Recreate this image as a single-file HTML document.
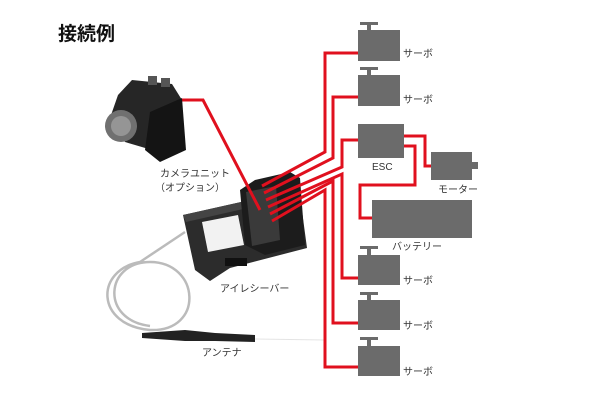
<!DOCTYPE html>
<html><head><meta charset="utf-8"><style>
body{margin:0;background:#fff;}
svg{display:block}
text{font-family:"Liberation Sans","Noto Sans CJK JP",sans-serif;fill:#333;font-size:10px}
</style></head><body>
<svg width="600" height="400" viewBox="0 0 600 400" xmlns="http://www.w3.org/2000/svg">
<rect width="600" height="400" fill="#fff"/>
<text x="58" y="40" style="font-size:19px;font-weight:bold;fill:#111">接続例</text>

<!-- servos -->
<g fill="#6b6b6b">
 <rect x="360" y="22" width="18" height="3"/><rect x="367" y="24" width="4" height="6"/><rect x="358" y="30" width="42" height="31"/>
 <rect x="360" y="67" width="18" height="3"/><rect x="367" y="69" width="4" height="6"/><rect x="358" y="75" width="42" height="31"/>
 <rect x="358" y="124" width="46" height="34"/>
 <rect x="431" y="152" width="41" height="28"/><rect x="472" y="162" width="6" height="7"/>
 <rect x="372" y="200" width="100" height="38"/>
 <rect x="360" y="246" width="18" height="3"/><rect x="367" y="248" width="4" height="7"/><rect x="358" y="255" width="42" height="30"/>
 <rect x="360" y="292" width="18" height="3"/><rect x="367" y="294" width="4" height="7"/><rect x="358" y="300" width="42" height="30"/>
 <rect x="360" y="337" width="18" height="3"/><rect x="367" y="339" width="4" height="7"/><rect x="358" y="346" width="42" height="30"/>
</g>
<text x="403" y="57">サーボ</text>
<text x="403" y="103">サーボ</text>
<text x="372" y="170">ESC</text>
<text x="438" y="193">モーター</text>
<text x="392" y="250">バッテリー</text>
<text x="403" y="284">サーボ</text>
<text x="403" y="329">サーボ</text>
<text x="403" y="375">サーボ</text>

<!-- antenna -->
<path d="M185,232 L140,262 C95,270 95,325 150,330 C205,332 200,262 150,262 C105,262 100,320 150,326" fill="none" stroke="#bbb" stroke-width="2.5"/>
<path d="M142,333 L185,330 L215,333 L255,335 L255,342 L215,341 L185,341 L142,338 Z" fill="#222"/>
<line x1="255" y1="339" x2="325" y2="340" stroke="#e4e4e4" stroke-width="1"/>

<!-- receiver -->
<polygon points="183,215 250,200 300,196 307,248 230,268 210,281 195,270" fill="#2c2c2c"/>
<polygon points="183,215 250,200 252,207 186,222" fill="#444"/>
<polygon points="255,180 290,172 300,178 305,245 265,255 245,245 240,190" fill="#1c1c1c"/>
<polygon points="246,192 276,186 280,240 252,246" fill="#3a3a3a"/>
<polygon points="202,222 238,215 244,245 208,252" fill="#f2f2f2"/>
<rect x="225" y="258" width="22" height="8" fill="#111"/>

<!-- wires -->
<g fill="none" stroke="#e0101e" stroke-width="3">
 <polyline points="178,100 203,100 260,210"/>
 <polyline points="262,186 325,152 325,53 358,53"/>
 <polyline points="264,193 333,158 333,97 358,97"/>
 <polyline points="266,200 342,167 342,140 358,140"/>
 <polyline points="268,207 342,174 342,278 358,278"/>
 <polyline points="270,214 333,181 333,323 358,323"/>
 <polyline points="272,221 325,190 325,367 358,367"/>
 <polyline points="404,136 425,136 425,166 431,166"/>
 <polyline points="404,146 415,146 415,185 360,185 360,218 372,218"/>
</g>

<!-- camera -->
<polygon points="118,95 132,80 172,84 182,100 180,140 152,150 125,142 110,118" fill="#262626"/>
<polygon points="150,112 182,98 186,150 160,162 145,150" fill="#141414"/>
<rect x="148" y="76" width="9" height="9" fill="#555"/><rect x="161" y="78" width="9" height="9" fill="#555"/>
<circle cx="121" cy="126" r="16" fill="#707070"/><circle cx="121" cy="126" r="10" fill="#959595"/>
<text x="160" y="177">カメラユニット</text>
<text x="155" y="191">（オプション）</text>
<text x="220" y="292">アイレシーバー</text>
<text x="202" y="356">アンテナ</text>
</svg>
</body></html>
